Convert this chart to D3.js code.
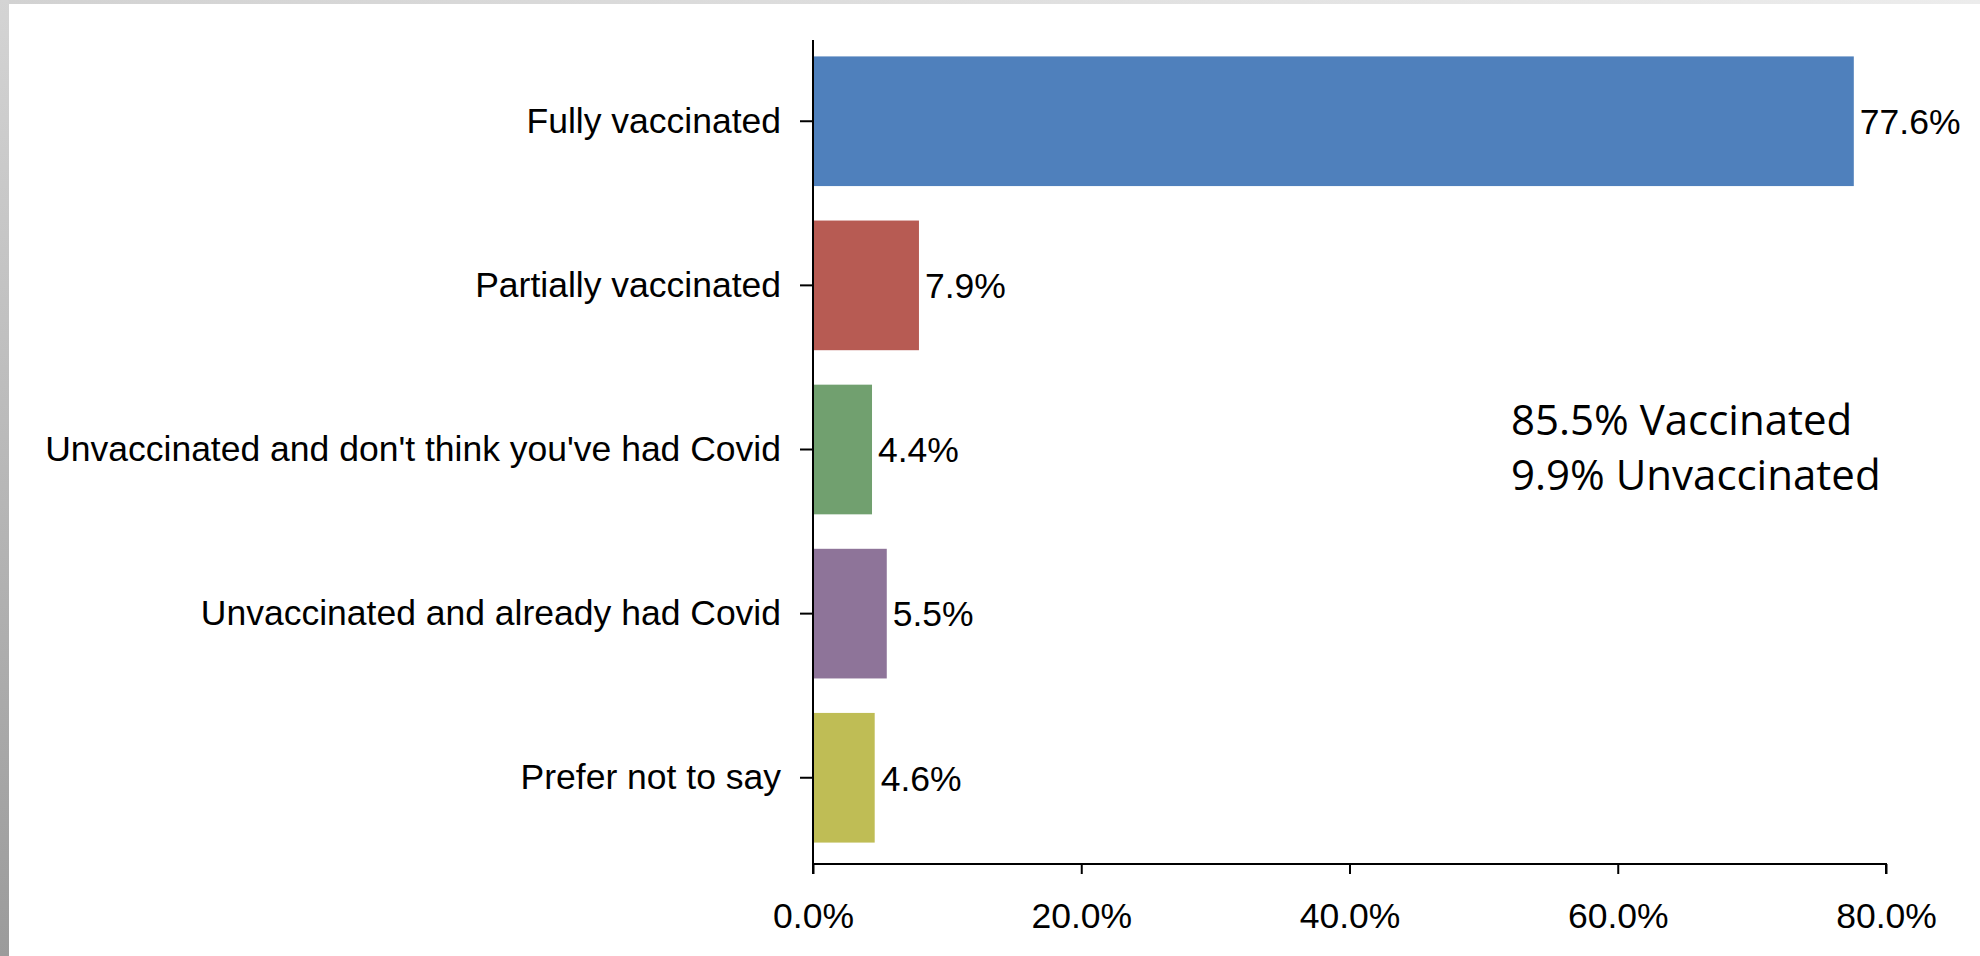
<!DOCTYPE html>
<html>
	<head>
		<meta charset="utf-8" />
		<title>Vaccination status</title>
		<style>
			html, body {
				margin: 0;
				padding: 0;
				background: #fff;
			}
			#graph {
				width: 1980px;
				height: 956px;
			}
			#graph svg {
				display: block;
			}
		</style>
	</head>
	<body>
		<div id="graph"></div>
		<script src="https://cdnjs.cloudflare.com/ajax/libs/d3/7.8.5/d3.min.js"></script>
		<script>
			var categories = [
				"Fully vaccinated",
				"Partially vaccinated",
				"Unvaccinated and don't think you've had Covid",
				"Unvaccinated and already had Covid",
				"Prefer not to say"
			];
			var values = [77.6, 7.9, 4.4, 5.5, 4.6];
			var barColors = ["#4f80bc", "#b75b53", "#71a06f", "#8e7499", "#bfbd55"];
			var xTicks = [0, 20, 40, 60, 80];
			var notes = ["85.5% Vaccinated", "9.9% Unvaccinated"];

			!(function(){
				var width = 1980, height = 956;
				var margin = {top: 40, left: 813, bottom: 92, right: 94};
				var chartWidth = width - margin.left - margin.right;
				var chartHeight = height - margin.top - margin.bottom;

				var svg = d3.select("#graph").append("svg")
					.attr("width", width)
					.attr("height", height);

				// slide frame: grey strips on the top and left edge
				var defs = svg.append("defs");
				var gl = defs.append("linearGradient").attr("id", "leftEdge")
					.attr("x1", 0).attr("y1", 0).attr("x2", 0).attr("y2", 1);
				gl.append("stop").attr("offset", "0%").attr("stop-color", "#d4d4d4");
				gl.append("stop").attr("offset", "100%").attr("stop-color", "#9b9b9b");
				var gt = defs.append("linearGradient").attr("id", "topEdge")
					.attr("x1", 0).attr("y1", 0).attr("x2", 1).attr("y2", 0);
				gt.append("stop").attr("offset", "0%").attr("stop-color", "#d2d2d2");
				gt.append("stop").attr("offset", "100%").attr("stop-color", "#ececec");
				svg.append("rect").attr("x", 0).attr("y", 0).attr("width", width).attr("height", 4).attr("fill", "url(#topEdge)");
				svg.append("rect").attr("x", 0).attr("y", 0).attr("width", 9).attr("height", height).attr("fill", "url(#leftEdge)");

				var g = svg.append("g").attr("transform", "translate(" + margin.left + "," + margin.top + ")");

				var x = d3.scaleLinear().domain([0, 80]).range([0, chartWidth]);
				var y = d3.scaleBand().domain(categories).range([0, chartHeight])
					.paddingInner(0.21).paddingOuter(0.1);
				// bars sit on a slightly tighter band than the axis line
				var yb = d3.scaleBand().domain(categories).range([0, chartHeight - 5])
					.paddingInner(0.21).paddingOuter(0.1);

				g.selectAll("rect.bar")
					.data(values)
					.enter().append("rect")
					.attr("class", "bar")
					.attr("x", x(0))
					.attr("y", function(d, i) { return yb(categories[i]); })
					.attr("width", function(d) { return x(d) - x(0); })
					.attr("height", yb.bandwidth())
					.attr("fill", function(d, i) { return barColors[i]; });

				g.selectAll("text.val")
					.data(values)
					.enter().append("text")
					.attr("class", "val")
					.attr("x", function(d) { return x(d) + 6; })
					.attr("y", function(d, i) { return yb(categories[i]) + yb.bandwidth() / 2; })
					.attr("dy", "0.36em")
					.style("font-family", "'Liberation Sans', Arial, sans-serif")
					.style("font-size", "35.5px")
					.attr("fill", "#000")
					.text(function(d) { return d.toFixed(1) + "%"; });

				var xAxis = g.append("g")
					.attr("transform", "translate(0," + chartHeight + ")")
					.call(d3.axisBottom(x).tickValues(xTicks).tickSize(10).tickPadding(29)
						.tickFormat(function(d) { return d.toFixed(1) + "%"; }));

				var yAxis = g.append("g")
					.call(d3.axisLeft(yb).tickSize(13).tickPadding(19).tickSizeOuter(0));
				yAxis.select(".domain").attr("d", "M0,0V" + chartHeight);

				[xAxis, yAxis].forEach(function(a) {
					a.select(".domain").attr("stroke", "#000").attr("stroke-width", 2);
					a.selectAll(".tick line").attr("stroke", "#000").attr("stroke-width", 2);
					a.selectAll(".tick text")
						.attr("fill", "#000")
						.style("font-family", "'Liberation Sans', Arial, sans-serif")
						.style("font-size", "35.5px");
				});
				xAxis.select(".domain").attr("d", "M0,10V0H" + chartWidth + "V10");

				svg.append("g").selectAll("text")
					.data(notes)
					.enter().append("text")
					.attr("x", 1511)
					.attr("y", function(d, i) { return 435 + i * 55; })
					.style("font-family", "'Open Sans', sans-serif")
					.style("font-size", "42px")
					.attr("fill", "#000")
					.text(function(d) { return d; });
			}());
		</script>
	</body>
</html>
